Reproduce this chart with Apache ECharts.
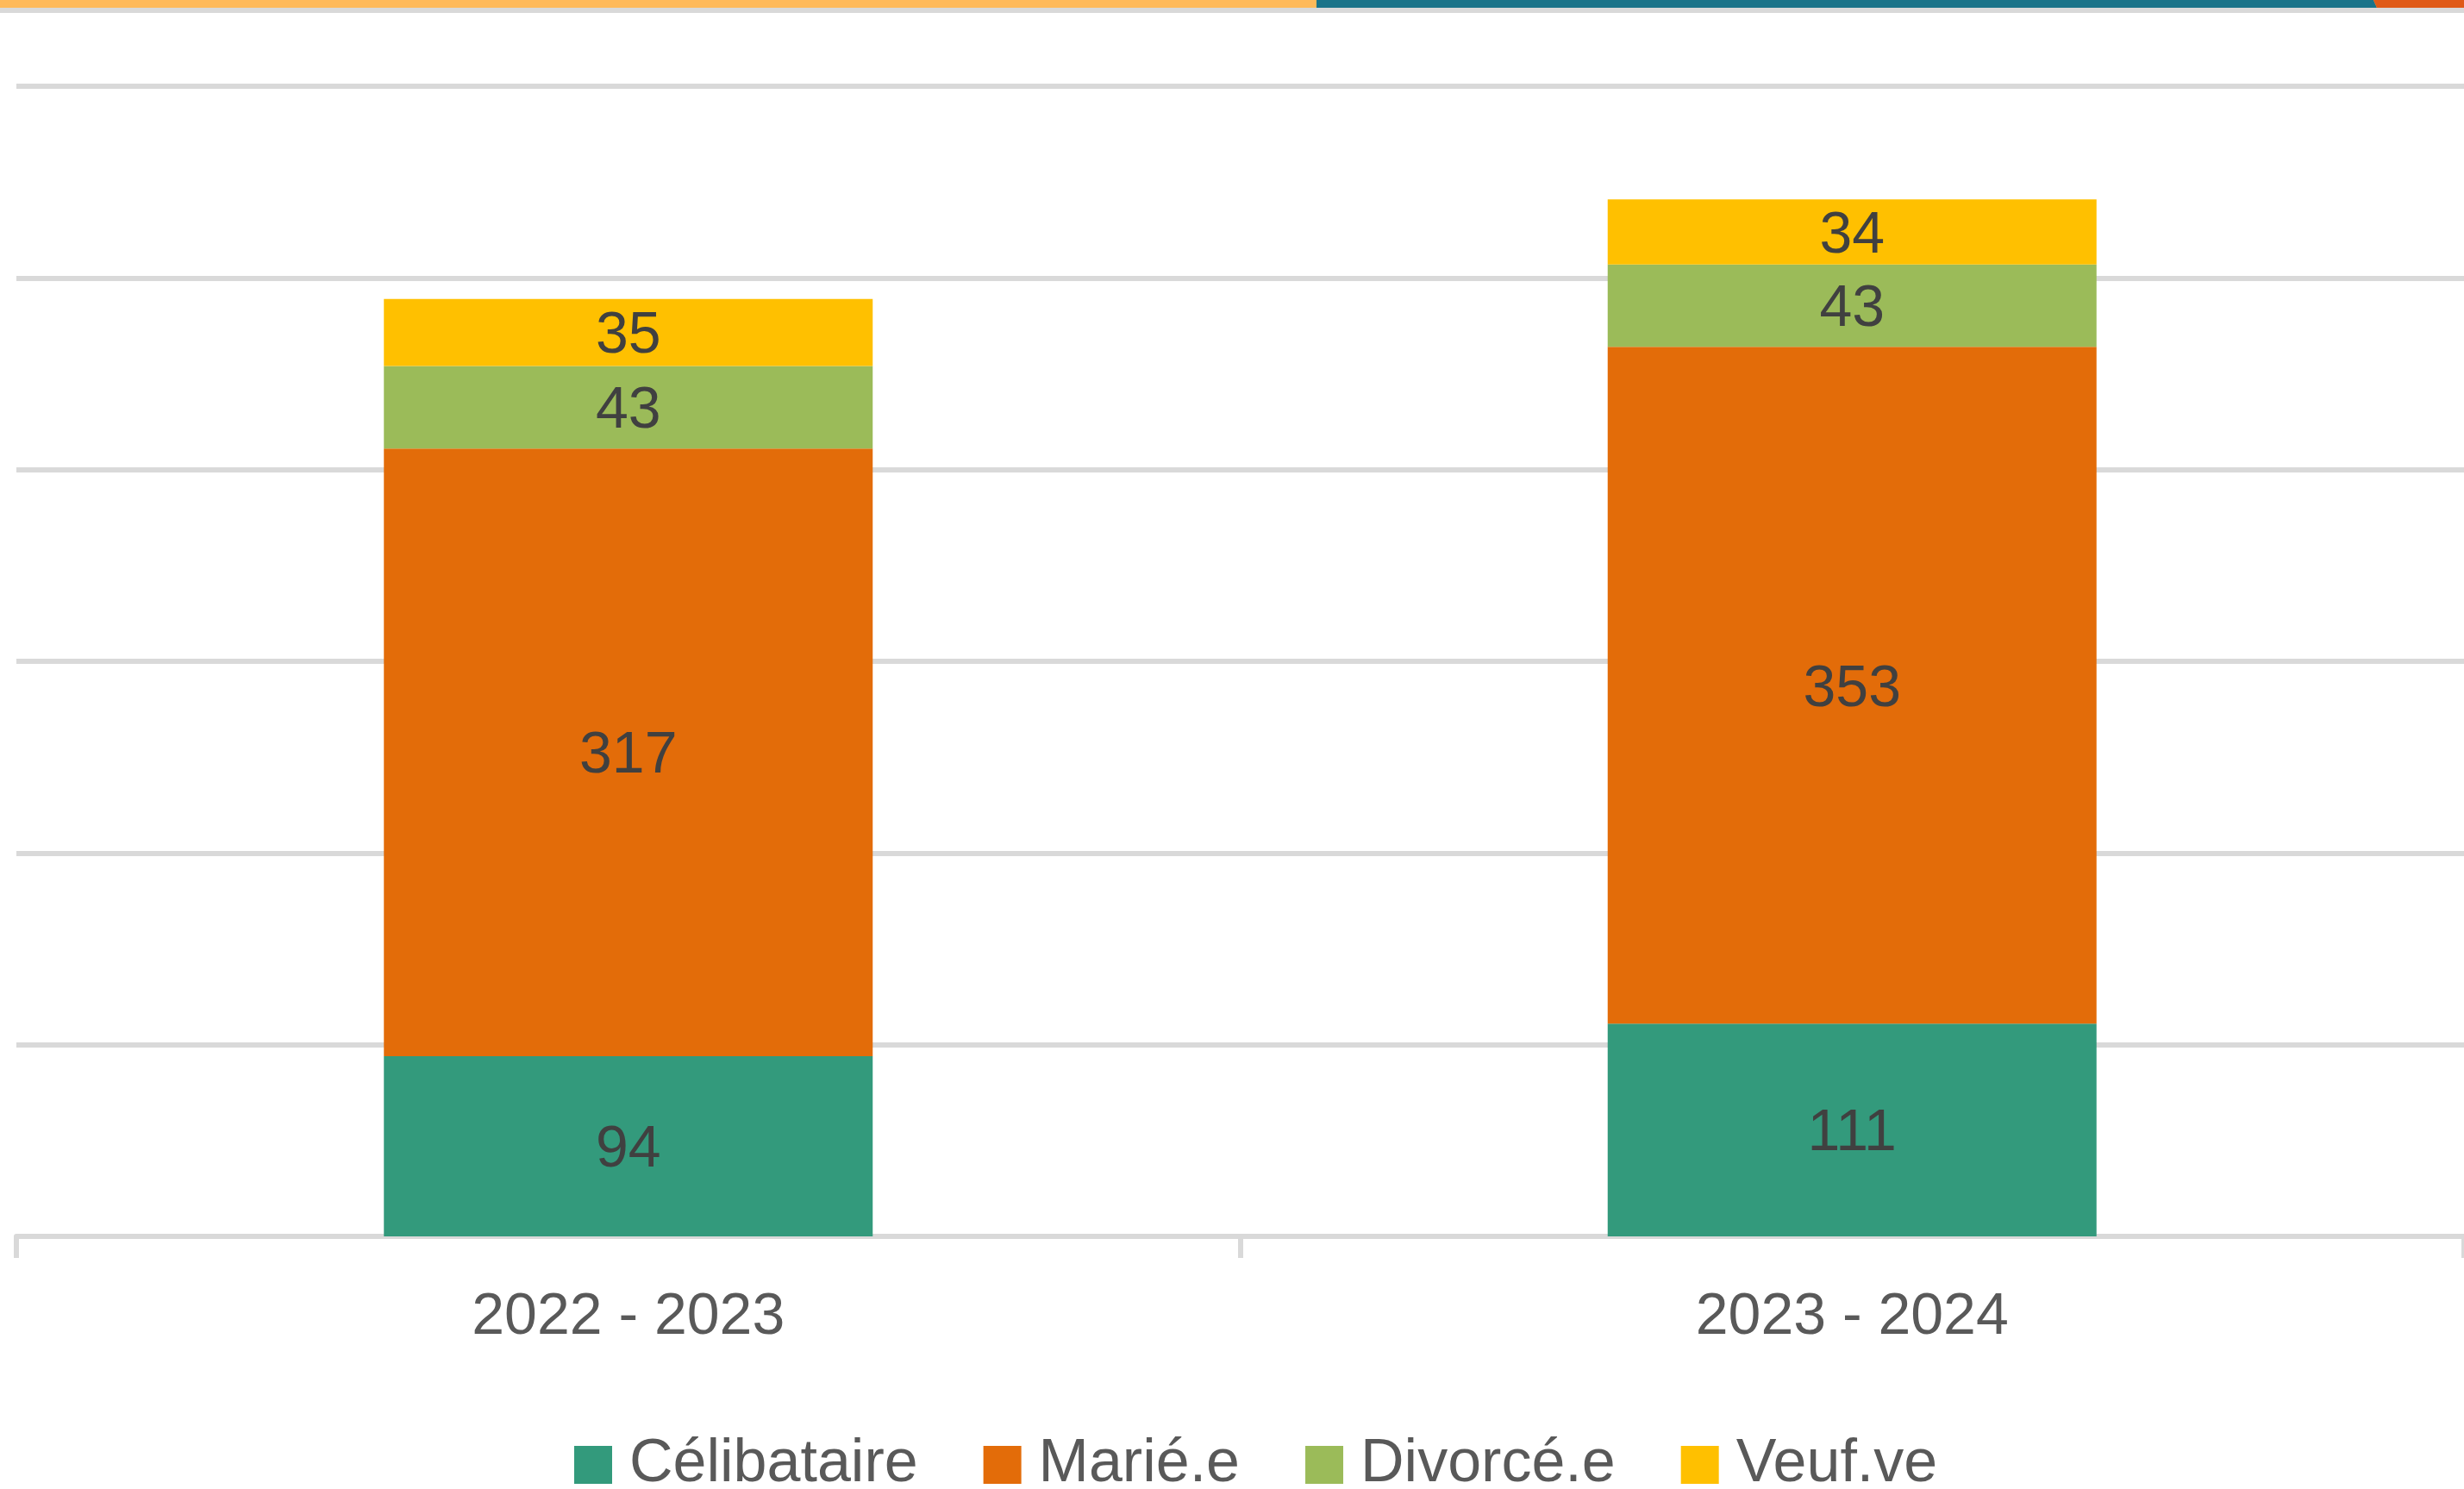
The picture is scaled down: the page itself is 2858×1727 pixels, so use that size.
<!DOCTYPE html>
<html>
<head>
<meta charset="utf-8">
<script src="https://cdn.jsdelivr.net/npm/echarts@6/dist/echarts.min.js"></script>
<style>
html,body{margin:0;padding:0;background:#fff;}
#chart{width:2858px;height:1727px;}
</style>
</head>
<body>
<div id="chart"></div>
<script>
const categories = ['2022 - 2023', '2023 - 2024'];
const seriesNames = ['Célibataire', 'Marié.e', 'Divorcé.e', 'Veuf.ve'];
const celibataire = [94, 111];
const marie = [317, 353];
const divorce = [43, 43];
const veuf = [35, 34];
const seriesColors = ['#339A7C', '#E36C09', '#9BBB59', '#FFC000'];

const seriesData = [celibataire, marie, divorce, veuf];
const FONT = 'Liberation Sans, Arial, sans-serif';

const chart = echarts.init(document.getElementById('chart'), null, {renderer: 'canvas'});
chart.setOption({
  animation: false,
  backgroundColor: '#ffffff',
  graphic: [
    {type: 'rect', shape: {x: 0, y: 0, width: 2858, height: 9}, style: {fill: '#FFBA5A'}, silent: true},
    {type: 'polygon', shape: {points: [[1527, 0], [2753, 0], [2757, 9], [1527, 9]]}, style: {fill: '#1A7389'}, silent: true},
    {type: 'polygon', shape: {points: [[2753, 0], [2858, 0], [2858, 9], [2757, 9]]}, style: {fill: '#E05A17'}, silent: true},
    {type: 'rect', shape: {x: 0, y: 9, width: 2858, height: 6}, style: {fill: '#D9D9D9'}, silent: true}
  ],
  grid: {left: 19, width: 2846, top: 100, bottom: 293, containLabel: false},
  legend: {
    data: seriesNames,
    left: 666,
    top: 1664,
    padding: 0,
    itemWidth: 44,
    itemHeight: 44,
    itemGap: 76,
    icon: 'rect',
    textStyle: {fontFamily: FONT, fontSize: 70, color: '#595959', padding: [0, 0, 0, 15]}
  },
  xAxis: {
    type: 'category',
    data: categories,
    axisLine: {show: true, lineStyle: {color: '#D9D9D9', width: 6}},
    axisTick: {show: true, length: 25, lineStyle: {color: '#D9D9D9', width: 6}},
    axisLabel: {fontFamily: FONT, fontSize: 68, color: '#595959', margin: 60}
  },
  yAxis: {
    type: 'value',
    min: 0,
    max: 600,
    interval: 100,
    axisLabel: {show: false},
    axisLine: {show: false},
    axisTick: {show: false},
    splitLine: {show: true, lineStyle: {color: '#D9D9D9', width: 6}}
  },
  series: seriesNames.map((name, i) => ({
    name: name,
    type: 'bar',
    stack: 'total',
    barWidth: 567,
    data: seriesData[i],
    itemStyle: {color: seriesColors[i]},
    label: {
      show: true,
      position: 'inside',
      offset: [0, 5],
      fontFamily: FONT,
      fontSize: 68,
      color: '#404040'
    }
  }))
});
</script>
</body>
</html>
